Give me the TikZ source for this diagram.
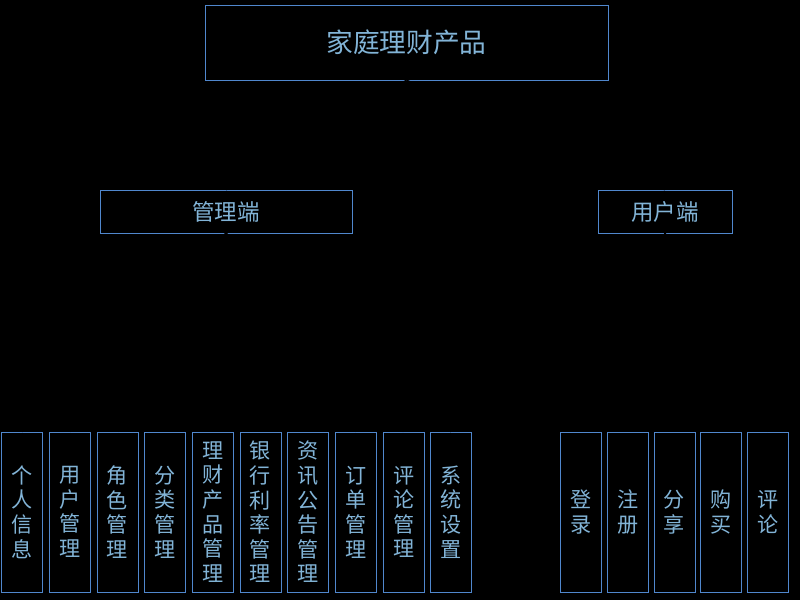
\documentclass[tikz,border=0pt]{standalone}
\usepackage{fontspec}
\newfontfamily\cjk{Noto Sans CJK SC}
\definecolor{boxblue}{RGB}{80,135,205}
\definecolor{textblue}{RGB}{130,180,215}

\begin{document}
\begin{tikzpicture}[x=0.025cm, y=-0.025cm,
		box/.style={draw=boxblue, line width=0.5pt, text=textblue, inner sep=0pt, font=\cjk\fontsize{16}{17}\selectfont},
		leaf/.style={box, minimum width=1.025cm, minimum height=4cm, align=center, font=\cjk\fontsize{15}{17.5}\selectfont},
		link/.style={draw=black, line width=1.2pt}]
		%%%%% START %%%%%
		
		\fill[black] (0, 0) rectangle (800, 600);
		
		\node[box, minimum width=10.075cm, minimum height=1.875cm, font=\cjk\fontsize{19}{20}\selectfont] (root) at (406.5, 42.5) {家庭理财产品};
		
		\node[box, minimum width=6.3cm, minimum height=1.075cm] (admin) at (226, 211.5) {管理端};
		\node[box, minimum width=3.35cm, minimum height=1.075cm] (user) at (665, 211.5) {用户端};
		
		\node[leaf] (a1) at (22, 512) {个\\人\\信\\息};
		\node[leaf] (a2) at (69.7, 512) {用\\户\\管\\理};
		\node[leaf] (a3) at (117.4, 512) {角\\色\\管\\理};
		\node[leaf] (a4) at (165.1, 512) {分\\类\\管\\理};
		\node[leaf] (a5) at (212.8, 512) {理\\财\\产\\品\\管\\理};
		\node[leaf] (a6) at (260.5, 512) {银\\行\\利\\率\\管\\理};
		\node[leaf] (a7) at (308.2, 512) {资\\讯\\公\\告\\管\\理};
		\node[leaf] (a8) at (355.9, 512) {订\\单\\管\\理};
		\node[leaf] (a9) at (403.6, 512) {评\\论\\管\\理};
		\node[leaf] (a10) at (451.3, 512) {系\\统\\设\\置};
		
		\node[leaf] (u1) at (581, 512) {登\\录};
		\node[leaf] (u2) at (627.7, 512) {注\\册};
		\node[leaf] (u3) at (674.4, 512) {分\\享};
		\node[leaf] (u4) at (721.1, 512) {购\\买};
		\node[leaf] (u5) at (767.8, 512) {评\\论};
		
		\draw[link] (root.south) -- (admin.north);
		\draw[link] (root.south) -- (user.north);
		
		\draw[link] (admin.south) -- (a1.north);
		\draw[link] (admin.south) -- (a2.north);
		\draw[link] (admin.south) -- (a3.north);
		\draw[link] (admin.south) -- (a4.north);
		\draw[link] (admin.south) -- (a5.north);
		\draw[link] (admin.south) -- (a6.north);
		\draw[link] (admin.south) -- (a7.north);
		\draw[link] (admin.south) -- (a8.north);
		\draw[link] (admin.south) -- (a9.north);
		\draw[link] (admin.south) -- (a10.north);
		
		\draw[link] (user.south) -- (u1.north);
		\draw[link] (user.south) -- (u2.north);
		\draw[link] (user.south) -- (u3.north);
		\draw[link] (user.south) -- (u4.north);
		\draw[link] (user.south) -- (u5.north);
		
		%%%%% END %%%%%
	\end{tikzpicture}
\end{document}
